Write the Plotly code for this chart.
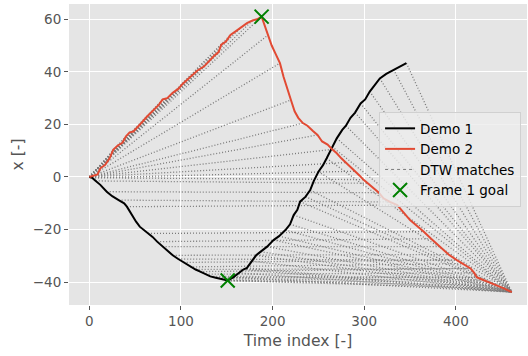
import plotly.graph_objects as go

# Demo 1 trajectory: time index and position
D1_T = [0, 3, 7, 12, 19, 25, 32, 38, 41, 44, 47, 51, 55, 60, 64, 69, 74, 80, 86, 91,
        97, 103, 110, 116, 121, 127, 132, 138, 144, 151, 157, 163, 168, 172, 177, 182,
        187, 194, 201, 207, 214, 219, 223, 227, 230, 236, 241, 245, 250, 255, 259, 265,
        270, 276, 280, 285, 290, 296, 301, 306, 311, 317, 324, 332, 339, 346]
D1_X = [0, -0.3, -1.5, -3, -5.6, -7.3, -8.8, -10, -11.3, -13, -15.1, -17, -18.9, -20.3,
        -21.5, -22.8, -24.6, -26.5, -28.5, -29.8, -31.2, -32.5, -34.2, -35.2, -36, -37,
        -37.8, -38.3, -38.8, -39.4, -38.2, -36.5, -35.2, -34.6, -32, -29.8, -28.4, -26.5,
        -24, -22.5, -20.2, -18, -14.5, -12.5, -9.4, -7.5, -5, -1.5, 2, 4.5, 7.1, 11.5,
        14.7, 17.9, 19.5, 22.5, 24.5, 28, 29.5, 32.5, 34.8, 37.5, 39.2, 40.8, 42.2, 43.3]

# Demo 2 trajectory: time index and position
D2_T = [0, 5, 9, 12, 17, 22, 26, 31, 36, 40, 44, 48, 53, 58, 63, 70, 76, 80, 85, 91,
        97, 102, 107, 112, 118, 125, 130, 136, 141, 144, 149, 154, 160, 166, 172, 178,
        183, 188, 191, 195, 199, 203, 208, 212, 216, 220, 224, 228, 233, 238, 244, 249,
        254, 260, 265, 270, 275, 280, 285, 290, 295, 299, 304, 310, 316, 321, 328, 336,
        343, 350, 357, 365, 373, 383, 392, 401, 408, 416, 420, 423, 430, 437, 445, 453, 461]
D2_X = [0, 0.5, 1, 3.3, 4.5, 7, 10.3, 12, 13, 15.5, 17, 17.3, 19, 21, 23, 25.5, 27.5,
        29.5, 30, 32, 33.5, 35.5, 37, 38.8, 40.5, 42, 44, 46, 47.5, 50.3, 51.5, 54, 55.5,
        57, 58.5, 59.5, 60, 61, 58, 54, 50, 47, 43.3, 38, 34, 29.3, 25, 22.5, 20.5, 19.5,
        17.5, 16, 13.5, 12.3, 10.5, 9, 7.1, 5.5, 3.9, 2.2, 0.5, -1, -2.4, -4.3, -6, -8.1,
        -9.5, -10.7, -13.5, -16.4, -18.5, -20.8, -23.5, -26.5, -29.5, -31.6, -33, -34.8,
        -36.5, -38.2, -39.2, -40.1, -41.3, -42.5, -43.8]

# DTW warping path (subsampled): time index in demo 1 paired with time index in demo 2
MATCH_T1 = ([0] * 27 +
            [3, 3, 7, 19, 32, 41, 64, 74, 80, 91, 97, 103, 110, 116, 121, 127, 132, 138,
             144, 151, 151, 151] +
            [157, 163, 168, 172, 177, 182, 187, 194, 201, 207, 214, 219, 223, 230, 236,
             241, 250, 259, 265, 270, 280, 290, 296, 306, 317, 332, 346])
MATCH_T2 = ([0, 5, 12, 22, 31, 40, 48, 58, 70, 80, 91, 102, 112, 125, 136, 144, 154, 166,
             178, 188, 195, 208, 220, 233, 249, 265, 280] +
            [290, 299, 304, 316, 328, 336, 365, 373, 383, 392, 401, 401, 408, 416, 416,
             420, 423, 423, 430, 437, 445, 453] +
            [461] * 27)

# Goal of frame 1 in each demonstration (time index)
GOAL_T1 = 151
GOAL_T2 = 188

x1 = dict(zip(D1_T, D1_X))
x2 = dict(zip(D2_T, D2_X))

mx, my = [], []
for a, b in zip(MATCH_T1, MATCH_T2):
    mx += [a, b, None]
    my += [x1[a], x2[b], None]

font = "DejaVu Sans"
match_color = "#7a7a7a"
fig = go.Figure()
# fine dotted segments between matched samples
fig.add_trace(go.Scatter(
    x=mx, y=my, mode="lines", name="DTW matches", showlegend=False,
    legendgroup="dtw", line=dict(color=match_color, width=1.3, dash="1px,2px"),
))
# legend key for the matches (named dash style renders in the legend)
fig.add_trace(go.Scatter(
    x=[None], y=[None], mode="lines", name="DTW matches", legendrank=3,
    legendgroup="dtw", line=dict(color=match_color, width=1, dash="dot"),
))
fig.add_trace(go.Scatter(
    x=D1_T, y=D1_X, mode="lines", name="Demo 1", legendrank=1,
    line=dict(color="black", width=2),
))
fig.add_trace(go.Scatter(
    x=D2_T, y=D2_X, mode="lines", name="Demo 2", legendrank=2,
    line=dict(color="#E24A33", width=2),
))
fig.add_trace(go.Scatter(
    x=[GOAL_T2, GOAL_T1], y=[x2[GOAL_T2], x1[GOAL_T1]], mode="markers",
    name="Frame 1 goal", legendrank=4,
    marker=dict(symbol="x-thin", size=14, line=dict(color="green", width=2), color="green"),
))

axis_common = dict(
    showgrid=True, gridcolor="white", gridwidth=1.2, zeroline=False,
    ticks="outside", ticklen=4, tickwidth=1, tickcolor="#555555",
    tickfont=dict(family=font, size=13.5, color="#555555"),
    showline=False,
)
fig.update_xaxes(
    range=[-22.2, 477.6], tickvals=[0, 100, 200, 300, 400],
    title=dict(text="Time index [-]", font=dict(family=font, size=15.6, color="#555555"), standoff=6),
    **axis_common,
)
fig.update_yaxes(
    range=[-48.7, 65.8], tickvals=[-40, -20, 0, 20, 40, 60],
    ticktext=["\u221240", "\u221220", "0", "20", "40", "60"],
    title=dict(text="x [-]", font=dict(family=font, size=15.6, color="#555555"), standoff=5),
    **axis_common,
)
fig.update_layout(
    width=528, height=356,
    margin=dict(l=69, r=1, t=4, b=51),
    plot_bgcolor="#E5E5E5", paper_bgcolor="white",
    font=dict(family=font),
    legend=dict(
        x=0.677, y=0.641, xanchor="left", yanchor="top",
        bgcolor="rgba(236,236,236,0.8)", bordercolor="#D0D0D0", borderwidth=1,
        font=dict(family=font, size=13.5, color="black"),
        tracegroupgap=0,
    ),
)
fig.write_html("out.html")
